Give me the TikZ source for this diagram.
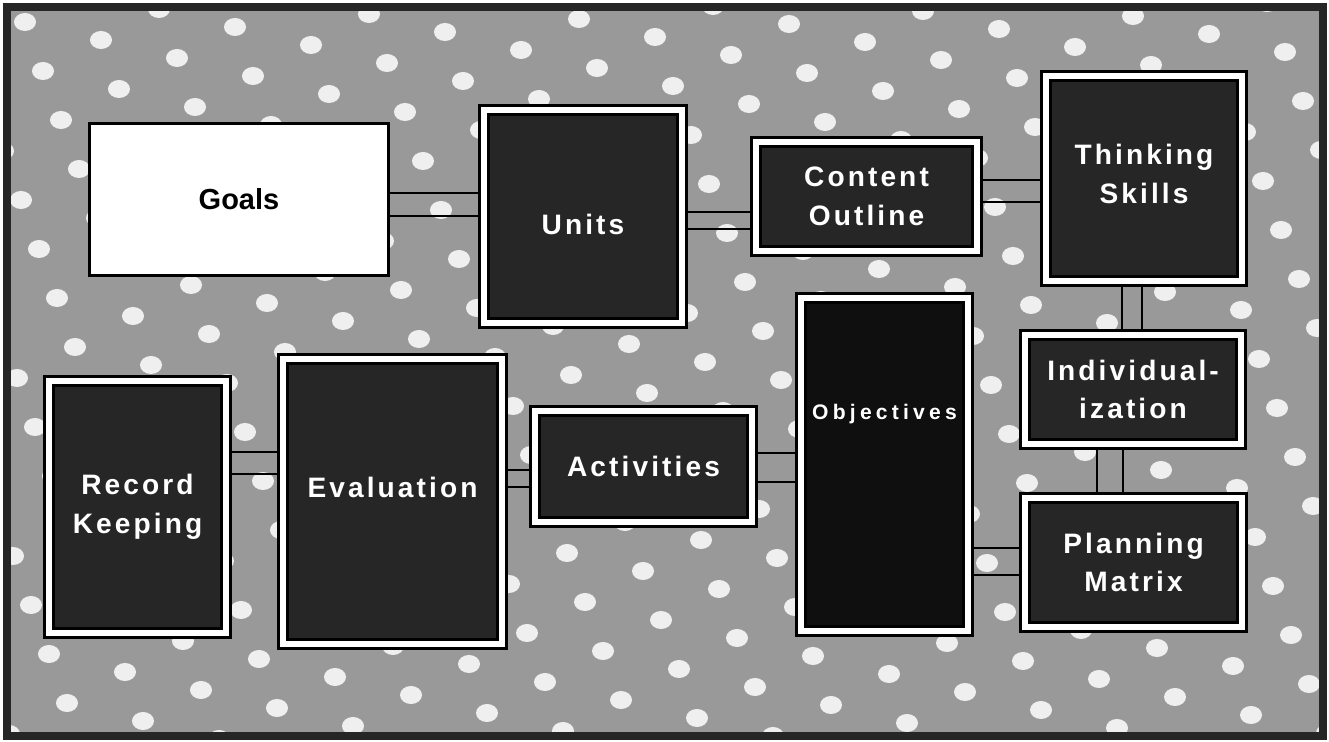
\documentclass[tikz,border=0pt]{standalone}
\usepackage{fontspec}
\setmainfont{Liberation Sans}
\newfontfamily\boxfont[LetterSpace=11]{Liberation Sans}
\newfontfamily\objfont[LetterSpace=20]{Liberation Sans}
\usetikzlibrary{positioning}
\definecolor{halftone}{gray}{0.6}
\definecolor{ink}{gray}{0.15}
\definecolor{deepink}{gray}{0.06}

\begin{document}
\begin{tikzpicture}[x=0.02cm, y=-0.02cm,
    panel/.style={draw=black, line width=0.05cm, double=white, double distance=0.13cm,
      fill=ink, outer sep=0.115cm, inner sep=0pt, text=white, align=center,
      font=\boxfont\bfseries\fontsize{16}{22}\selectfont},
    plainbox/.style={draw=black, line width=0.06cm, fill=white, outer sep=0.03cm,
      inner sep=0pt, font=\bfseries\fontsize{16.5}{20}\selectfont},
    wire/.style={draw=black, line width=0.055cm}]
  \useasboundingbox (0,0) rectangle (1329,742);
  \fill[halftone] (7,7) rectangle (1323,736);
  \begin{scope}
    \clip (7,7) rectangle (1323,736);
    \foreach \i in {-14,...,22}
      \foreach \j in {-10,...,22}
        \fill[white, opacity=0.85] ({76*\i+18*\j+25},{18*\i+49*\j+22}) ellipse (11 and 9);
  \end{scope}
  \draw[line width=0.16cm, black!85] (7,7) rectangle (1323,736);

  \node[plainbox, minimum width=5.98cm, minimum height=3.04cm] (goals) at (239,199.5) {Goals};
  \node[panel, minimum width=3.97cm, minimum height=4.27cm, text height=20pt, text depth=0pt] (units) at (583,216.5) {Units};
  \node[panel, minimum width=4.43cm, minimum height=2.19cm] (content) at (866.5,196.5) {Content\\Outline};
  \node[panel, minimum width=3.93cm, minimum height=4.11cm, text depth=5.6pt] (thinking) at (1144,178.5) {Thinking\\Skills};
  \node[panel, minimum width=4.33cm, minimum height=2.19cm] (indiv) at (1133,389.5) {Individual-\\ization};
  \node[panel, minimum width=4.35cm, minimum height=2.59cm] (planning) at (1133.5,562.5) {Planning\\Matrix};
  \node[panel, fill=deepink, minimum width=3.35cm, minimum height=6.67cm,
    font=\objfont\bfseries\fontsize{12}{14}\selectfont, text height=9pt, text depth=60pt] (objectives) at (884.5,464.5) {Objectives};
  \node[panel, minimum width=4.35cm, minimum height=2.23cm] (activities) at (643.5,466.5) {Activities};
  \node[panel, minimum width=4.39cm, minimum height=5.71cm, text height=12pt, text depth=17pt] (evaluation) at (392.5,501.5) {Evaluation};
  \node[panel, minimum width=3.55cm, minimum height=5.05cm] (record) at (137.5,507) {Record\\Keeping};

  \foreach \y in {193,216} \draw[wire] (goals.east |- 0,\y) -- (units.west |- 0,\y);
  \foreach \y in {212,229} \draw[wire] (units.east |- 0,\y) -- (content.west |- 0,\y);
  \foreach \y in {180,202} \draw[wire] (content.east |- 0,\y) -- (thinking.west |- 0,\y);
  \foreach \x in {1122,1142} \draw[wire] (thinking.south -| \x,0) -- (indiv.north -| \x,0);
  \foreach \x in {1097,1123} \draw[wire] (indiv.south -| \x,0) -- (planning.north -| \x,0);
  \foreach \y in {548,575} \draw[wire] (objectives.east |- 0,\y) -- (planning.west |- 0,\y);
  \foreach \y in {453,482} \draw[wire] (activities.east |- 0,\y) -- (objectives.west |- 0,\y);
  \foreach \y in {470,487} \draw[wire] (evaluation.east |- 0,\y) -- (activities.west |- 0,\y);
  \foreach \y in {452,474} \draw[wire] (record.east |- 0,\y) -- (evaluation.west |- 0,\y);
\end{tikzpicture}
\end{document}
